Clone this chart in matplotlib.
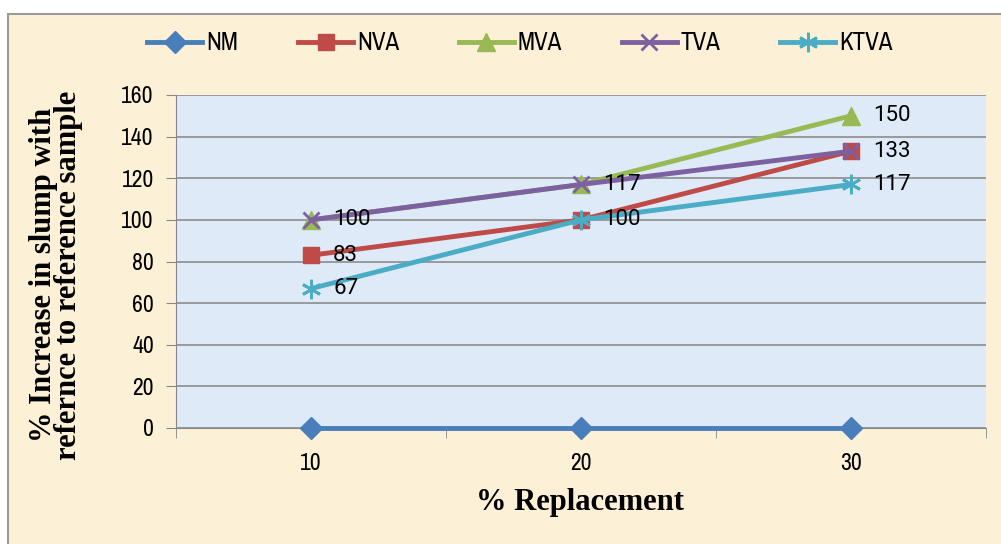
import matplotlib.pyplot as plt
from matplotlib.patches import Rectangle

replacement = ['10', '20', '30']
nm = [0, 0, 0]
nva = [83, 100, 133]
mva = [100, 117, 150]
tva = [100, 117, 133]
ktva = [67, 100, 117]

# value labels that are printed next to the points: (series values, index)
shown = [(tva, 0), (nva, 0), (ktva, 0), (tva, 1), (ktva, 1),
         (mva, 2), (nva, 2), (ktva, 2)]

narrow = ['Archivo Narrow', 'DejaVu Sans']

fig = plt.figure(figsize=(10.01, 5.44), dpi=100)
fig.patch.set_facecolor('white')
W, H = 1001, 544
fig.patches.append(Rectangle((8 / W, -0.1), 1.2, (H - 14) / H + 0.1, transform=fig.transFigure,
                             facecolor='#FCF1D6', edgecolor='#9a9a9a', lw=1.5, zorder=-10))

ax = fig.add_axes([176 / W, (H - 428) / H, 810 / W, 333 / H])
ax.set_facecolor('#DEEAF8')
x = [1, 2, 3]

series = [
    ('NM', nm, '#4A7EBB', 'D', 11, 1),
    ('NVA', nva, '#BE4B48', 's', 12, 1),
    ('MVA', mva, '#98B954', '^', 13, 1),
    ('TVA', tva, '#7D60A0', 'x', 12, 2),
    ('KTVA', ktva, '#4BACC6', (6, 2, 0), 14, 2),
]
for name, vals, col, mk, ms, mew in series:
    ax.plot(x, vals, color=col, lw=3.5, marker=mk, markersize=ms,
            markeredgewidth=mew, markeredgecolor=col, label=name,
            clip_on=False, zorder=3)

for vals, i in shown:
    ax.annotate(str(vals[i]), (x[i], vals[i]), xytext=(16, 0), textcoords='offset points',
                va='center', ha='left', fontsize=16, family='Roboto', zorder=4)

ax.set_xlim(0.5, 3.5)
ax.set_ylim(0, 160)
ax.set_yticks(range(0, 161, 20))
ax.set_xticks(x)
ax.set_xticklabels(replacement)
ax.set_xticks([0.5, 1.5, 2.5, 3.5], minor=True)
ax.tick_params(axis='x', which='major', length=0, pad=18)
ax.tick_params(axis='x', which='minor', length=7, color='#888888')
ax.tick_params(axis='y', length=7, color='#888888', pad=9)
for lab in ax.get_xticklabels() + ax.get_yticklabels():
    lab.set_family(narrow)
    lab.set_fontsize(17)

ax.grid(axis='y', color='#8c8c8c', lw=1.2)
ax.set_axisbelow(True)
for s in ['top', 'right']:
    ax.spines[s].set_visible(False)
ax.spines['left'].set_color('#888888')
ax.spines['bottom'].set_color('#888888')

ax.set_xlabel('% Replacement', family='Liberation Serif', fontweight='bold', fontsize=22)
ax.xaxis.set_label_coords((580 - 176) / 810, -(488 - 428) / 333)
ax.set_ylabel('% Increase in slump with\nrefernce to reference sample',
              family='Liberation Serif', fontweight='bold', fontsize=22,
              linespacing=0.85, va='center')
ax.yaxis.set_label_coords(-(176 - 56) / 810, (428 - 275) / 333)

leg = fig.legend(loc='center', bbox_to_anchor=(520 / W, (H - 43) / H), ncol=5,
                 frameon=False, handlelength=2.2, columnspacing=2.4, handletextpad=0.15,
                 prop={'family': narrow, 'size': 18})

plt.savefig('out.png', dpi=100)
